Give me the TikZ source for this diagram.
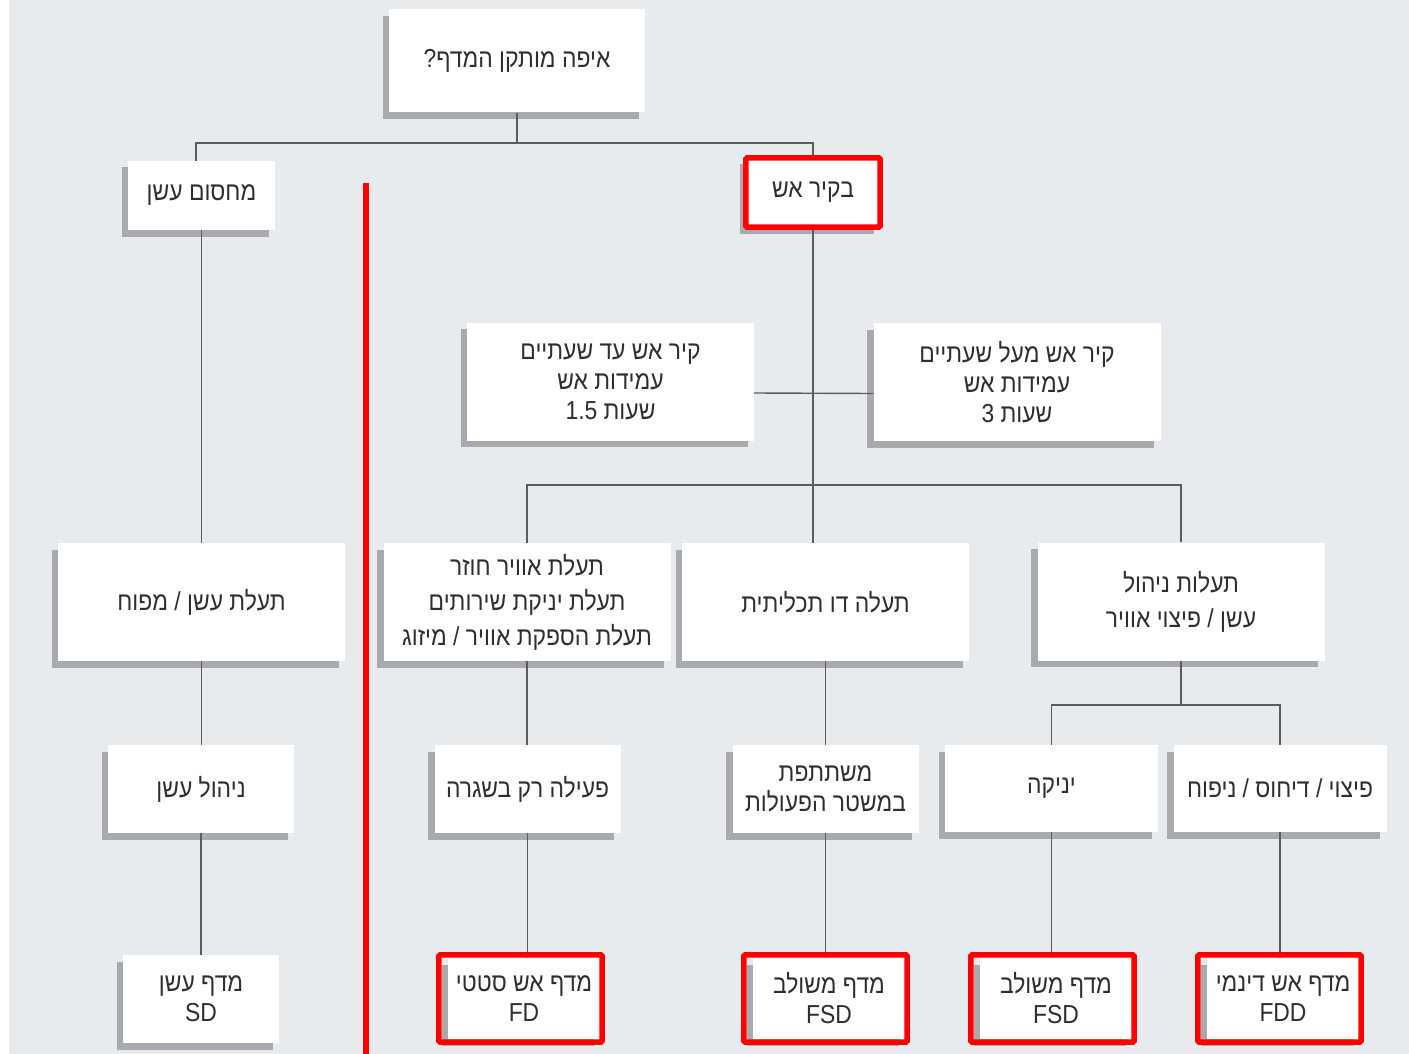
\documentclass[tikz,border=0pt]{standalone}
\usepackage{fontspec}
\setmainfont{Liberation Sans}
\newfontfamily\hebfont[Script=Hebrew,FakeStretch=0.88]{Liberation Sans}
\TeXXeTstate=1
\usetikzlibrary{positioning, shadows, calc}
\definecolor{bggray}{HTML}{E8EBEE}
\definecolor{shadowgray}{HTML}{A8AAAD}
\definecolor{linegray}{HTML}{5C5C5C}
\definecolor{textgray}{HTML}{2E2E2E}
\definecolor{markred}{HTML}{FF0000}
\newcommand{\rtl}[1]{\beginR #1\endR}

\begin{document}
\begin{tikzpicture}[x=1pt, y=-1pt,
	box/.style={fill=white, inner sep=0pt, align=center, text=textgray,
		font=\hebfont\fontsize{26}{30}\selectfont,
		drop shadow={shadow xshift=-6.5pt, shadow yshift=-6.5pt, opacity=1, fill=shadowgray}},
	wide/.style={box, minimum width=287pt, minimum height=118pt},
	small/.style={box, minimum width=186pt, minimum height=88pt},
	pair/.style={box, minimum width=213pt, minimum height=87pt},
	damper/.style={box, minimum width=152pt, minimum height=81pt},
	link/.style={draw=linegray, line width=1.4pt},
	redframe/.style={draw=markred, line width=5.5pt, rounded corners=1.5pt}]
	% Background
	\fill[white] (0,0) rectangle (9,1054);
	\fill[bggray] (9,0) rectangle (1409,1054);
	\useasboundingbox (0,0) rectangle (1409,1054);
	
	% Define the nodes (top of the tree)
	\node[box, minimum width=256pt, minimum height=103pt] (where) at (517,61) {\rtl{איפה מותקן המדף?}};
	\node[box, minimum width=147pt, minimum height=69pt] (barrier) at (201.5,195.5) {\rtl{מחסום עשן}};
	\node[box, minimum width=134pt, minimum height=69pt] (firewall) at (813,192.5) {\rtl{בקיר אש}};
	
	% Define the nodes (fire wall rating)
	\node[wide] (upto) at (610.5,381.5) {\rtl{קיר אש עד שעתיים}\\\rtl{עמידות אש}\\\rtl{שעות 1.5}};
	\node[wide] (over) at (1017,382) {\rtl{קיר אש מעל שעתיים}\\\rtl{עמידות אש}\\\rtl{שעות 3}};
	
	% Define the nodes (ducts)
	\node[wide] (smokeduct) at (201.5,602) {\rtl{תעלת עשן / מפוח}};
	\node[wide] (returnair) at (527,602) {\rtl{תעלת אוויר חוזר}\\[5pt]\rtl{תעלת יניקת שירותים}\\[5pt]\rtl{תעלת הספקת אוויר / מיזוג}};
	\node[wide] (dualduct) at (825.5,602) {\rtl{תעלה דו תכליתית}};
	\node[wide] (mgmtduct) at (1181,601.5) {\rtl{תעלות ניהול}\\[5pt]\rtl{עשן / פיצוי אוויר}};
	
	% Define the nodes (operation)
	\node[small] (smokemgmt) at (201,789) {\rtl{ניהול עשן}};
	\node[small] (routine) at (527.5,789) {\rtl{פעילה רק בשגרה}};
	\node[small] (takespart) at (825.5,789) {\rtl{משתתפת}\\\rtl{במשטר הפעולות}};
	\node[pair] (suction) at (1051.5,788.5) {\rtl{יניקה}};
	\node[pair] (pressure) at (1280,788.5) {\rtl{פיצוי / דיחוס / ניפוח}};
	
	% Define the nodes (dampers)
	\node[box, minimum width=156pt, minimum height=88pt] (sd) at (201,999) {\rtl{מדף עשן}\\SD};
	\node[damper] (fd) at (524,998.5) {\rtl{מדף אש סטטי}\\FD};
	\node[damper] (fsdone) at (829,998.5) {\rtl{מדף משולב}\\FSD};
	\node[damper] (fsdtwo) at (1056,998.5) {\rtl{מדף משולב}\\FSD};
	\node[damper] (fdd) at (1283,998.5) {\rtl{מדף אש דינמי}\\FDD};
	
	% Define the connections
	\coordinate (topfork) at (517,143);
	\coordinate (midfork) at (813,485);
	\coordinate (lowfork) at (1181,705);
	\draw[link] (where.south) -- (topfork);
	\draw[link] ([xshift=-5.5pt]barrier.north) |- (topfork) -| (firewall.north);
	\draw[link] (firewall.south) -- (firewall.south |- dualduct.north);
	\draw[link] ([yshift=-11.5pt]upto.east) -- ([yshift=-11.5pt]over.west);
	\draw[link] (returnair.north) |- (midfork) -| (mgmtduct.north);
	\draw[link] (barrier.south) -- (smokeduct.north);
	\draw[link] (smokeduct.south) -- (smokeduct.south |- smokemgmt.north);
	\draw[link] (smokemgmt.south) -- (sd.north);
	\draw[link] (returnair.south) -- (returnair.south |- routine.north);
	\draw[link] (routine.south) -- (routine.south |- fd.north);
	\draw[link] (dualduct.south) -- (takespart.north);
	\draw[link] (takespart.south) -- (takespart.south |- fsdone.north);
	\draw[link] (mgmtduct.south) -- (lowfork);
	\draw[link] (suction.north) |- (lowfork) -| (pressure.north);
	\draw[link] (suction.south) -- (suction.south |- fsdtwo.north);
	\draw[link] (pressure.south) -- (pressure.south |- fdd.north);
	
	% Red marks
	\draw[redframe] (firewall.north west) rectangle (firewall.south east);
	\foreach \d in {fd, fsdone, fsdtwo, fdd}
		\draw[redframe] ([shift={(-9,-3)}]\d.north west) rectangle ([shift={(2,3)}]\d.south east);
	\draw[markred, line width=6pt] (366,183) -- (366,1054);
\end{tikzpicture}
\end{document}
